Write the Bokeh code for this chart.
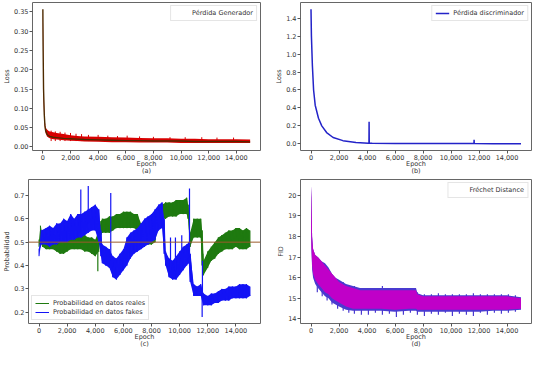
from bokeh.plotting import figure
from bokeh.models import FixedTicker, NumeralTickFormatter, Span, Legend, LegendItem, Range1d
from bokeh.layouts import column, row
from bokeh.embed import file_html
from bokeh.resources import INLINE

# ---------------- data ----------------
epoch_ticks = [0, 2000, 4000, 6000, 8000, 10000, 12000, 14000]

# (a) generator loss: envelope and core
gen_epoch = [0, 20, 50, 100, 150, 200, 300, 400, 500, 750, 1000, 1500, 2000, 2500, 3000,
             4000, 5000, 6000, 7000, 8000, 9000, 10000, 11000, 12000, 13000, 14000, 15000]
gen_lo = [0.30, 0.20, 0.12, 0.07, 0.045, 0.035, 0.027, 0.024, 0.022, 0.020, 0.019, 0.017, 0.016,
          0.015, 0.014, 0.013, 0.012, 0.012, 0.011, 0.011, 0.011, 0.010, 0.010, 0.010, 0.010, 0.010, 0.010]
gen_hi = [0.357, 0.30, 0.17, 0.10, 0.065, 0.050, 0.045, 0.042, 0.040, 0.038, 0.036, 0.033, 0.030,
          0.028, 0.027, 0.026, 0.025, 0.024, 0.023, 0.022, 0.022, 0.021, 0.021, 0.020, 0.020, 0.020, 0.019]
gen_core = [0.357, 0.25, 0.15, 0.085, 0.055, 0.042, 0.033, 0.029, 0.027, 0.025, 0.024, 0.022, 0.021,
            0.020, 0.019, 0.018, 0.017, 0.016, 0.016, 0.015, 0.015, 0.015, 0.014, 0.014, 0.014, 0.014, 0.013]
gen_spike_epoch = [600, 900, 1250, 1600, 2000, 2400, 2800, 3300, 4000, 4700, 5400, 6100, 7000, 8000,
                   9200, 10300, 11500, 12600, 13800]
gen_spike_hi = [0.042, 0.040, 0.039, 0.037, 0.036, 0.034, 0.033, 0.031, 0.031, 0.029, 0.028, 0.029,
                0.027, 0.026, 0.025, 0.025, 0.025, 0.024, 0.024]

# (b) discriminator loss
dis_epoch = [0, 30, 100, 185, 300, 535, 770, 1115, 1580, 2280, 3210, 4100, 4140, 4150, 4160,
             4370, 6000, 8000, 10000, 11640, 11650, 11660, 13000, 15000]
dis_loss = [1.50, 1.20, 0.87, 0.60, 0.43, 0.285, 0.20, 0.125, 0.07, 0.035, 0.015, 0.006, 0.006,
            0.245, 0.006, 0.005, 0.003, 0.002, 0.002, 0.002, 0.045, 0.002, 0.001, 0.001]

# (c) probability on real data (green)
real_epoch = [0, 100, 250, 500, 750, 1000, 1250, 1500, 1750, 2000, 2250, 2500, 2750, 3000, 3250,
              3500, 3750, 4000, 4250, 4400, 4500, 4750, 5000, 5250, 5500, 5750, 6000, 6250, 6500,
              6750, 7000, 7250, 7500, 7750, 8000, 8250, 8500, 8750, 9000, 9250, 9500, 9750, 10000,
              10250, 10500, 10600, 10750, 11000, 11250, 11500, 11600, 11700, 12000, 12250, 12500,
              12750, 13000, 13250, 13500, 13750, 14000, 14250, 14500, 14750, 15000]
real_lo = [0.48, 0.50, 0.48, 0.47, 0.47, 0.47, 0.46, 0.45, 0.45, 0.46, 0.47, 0.47, 0.47, 0.47, 0.46,
           0.46, 0.45, 0.44, 0.46, 0.53, 0.54, 0.54, 0.54, 0.55, 0.56, 0.56, 0.56, 0.56, 0.56,
           0.56, 0.55, 0.52, 0.50, 0.49, 0.49, 0.50, 0.58, 0.60, 0.60, 0.61, 0.61, 0.61, 0.62,
           0.62, 0.62, 0.60, 0.48, 0.52, 0.52, 0.52, 0.40, 0.36, 0.39, 0.42, 0.43,
           0.45, 0.46, 0.47, 0.47, 0.47, 0.48, 0.47, 0.47, 0.47, 0.48]
real_hi = [0.51, 0.57, 0.53, 0.52, 0.52, 0.52, 0.52, 0.51, 0.51, 0.52, 0.53, 0.53, 0.54, 0.53, 0.53,
           0.52, 0.52, 0.51, 0.55, 0.59, 0.60, 0.60, 0.61, 0.61, 0.62, 0.62, 0.63, 0.63, 0.63,
           0.62, 0.62, 0.58, 0.56, 0.55, 0.55, 0.56, 0.65, 0.66, 0.67, 0.67, 0.67, 0.68, 0.68,
           0.68, 0.69, 0.66, 0.54, 0.60, 0.60, 0.60, 0.55, 0.42, 0.46, 0.48, 0.50,
           0.52, 0.53, 0.54, 0.55, 0.55, 0.56, 0.56, 0.55, 0.56, 0.55]
real_spike_epoch = [4180, 11650]
real_spike_lo = [0.375, 0.355]
real_spike_hi = [0.46, 0.45]

# (c) probability on fake data (blue)
fake_epoch = [0, 150, 500, 750, 1000, 1250, 1500, 1750, 2000, 2250, 2500, 2750, 3000, 3250, 3500,
              3750, 4000, 4250, 4400, 4500, 4750, 5000, 5250, 5500, 5750, 6000, 6250, 6500, 6750,
              7000, 7250, 7500, 7750, 8000, 8250, 8500, 8750, 8900, 9000, 9250, 9500, 9750, 10000,
              10250, 10500, 10650, 10750, 11000, 11250, 11500, 11700, 12000, 12250, 12500, 12750,
              13000, 13250, 13500, 13750, 14000, 14250, 14500, 14750, 15000]
fake_lo = [0.44, 0.49, 0.49, 0.48, 0.49, 0.49, 0.50, 0.50, 0.50, 0.51, 0.51, 0.52, 0.52, 0.53, 0.54,
           0.55, 0.55, 0.50, 0.44, 0.41, 0.40, 0.39, 0.35, 0.34, 0.36, 0.38, 0.40, 0.43, 0.45,
           0.46, 0.47, 0.48, 0.49, 0.50, 0.51, 0.55, 0.56, 0.45, 0.40, 0.35, 0.34, 0.34, 0.36,
           0.38, 0.40, 0.41, 0.33, 0.27, 0.27, 0.27, 0.23, 0.23, 0.23, 0.24, 0.24,
           0.25, 0.25, 0.25, 0.26, 0.26, 0.26, 0.26, 0.26, 0.27]
fake_hi = [0.47, 0.55, 0.56, 0.57, 0.56, 0.58, 0.58, 0.60, 0.59, 0.62, 0.60, 0.62, 0.62, 0.63, 0.64,
           0.65, 0.66, 0.64, 0.55, 0.49, 0.48, 0.47, 0.44, 0.43, 0.45, 0.47, 0.52, 0.54, 0.55,
           0.56, 0.58, 0.60, 0.61, 0.62, 0.64, 0.66, 0.67, 0.60, 0.46, 0.43, 0.42, 0.44, 0.46,
           0.48, 0.49, 0.50, 0.45, 0.32, 0.31, 0.32, 0.28, 0.27, 0.28, 0.28, 0.29,
           0.30, 0.30, 0.31, 0.31, 0.31, 0.32, 0.32, 0.32, 0.31]
fake_spike_epoch = [2970, 3500, 5100, 9350, 9700, 10150, 10700, 11600, 11620]
fake_spike_lo = [0.55, 0.58, 0.42, 0.38, 0.38, 0.40, 0.45, 0.18, 0.25]
fake_spike_hi = [0.725, 0.74, 0.71, 0.52, 0.52, 0.53, 0.73, 0.28, 0.42]

# (d) Frechet distance: magenta band over blue band
fid_epoch = [0, 30, 80, 150, 300, 500, 750, 1000, 1250, 1500, 1750, 2000, 2500, 3000, 3500,
             4000, 5000, 6000, 7000, 7500, 7600, 8000, 9000, 10000, 11000, 12000, 13000, 14000, 15000]
fid_lo = [18.5, 17.5, 16.6, 16.2, 15.9, 15.7, 15.5, 15.3, 15.2, 15.0, 14.9, 14.8, 14.6, 14.5, 14.5,
          14.5, 14.5, 14.45, 14.5, 14.5, 14.45, 14.45, 14.45, 14.45, 14.45, 14.45, 14.45, 14.45, 14.5]
fid_hi = [20.45, 19.9, 18.0, 17.4, 17.1, 17.0, 16.8, 16.6, 16.4, 16.2, 16.0, 15.8, 15.6, 15.5, 15.4,
          15.4, 15.4, 15.4, 15.4, 15.4, 15.2, 15.1, 15.1, 15.1, 15.1, 15.1, 15.1, 15.1, 15.0]
fidb_lo = [18.4, 17.4, 16.4, 16.0, 15.7, 15.5, 15.3, 15.1, 15.0, 14.8, 14.7, 14.6, 14.45, 14.4, 14.4,
           14.4, 14.4, 14.35, 14.4, 14.4, 14.35, 14.35, 14.35, 14.35, 14.35, 14.35, 14.4, 14.4, 14.45]
fidb_hi = [20.45, 19.9, 18.0, 17.4, 17.1, 17.0, 16.8, 16.7, 16.5, 16.2, 16.0, 15.9, 15.7, 15.6, 15.5,
           15.5, 15.5, 15.5, 15.5, 15.5, 15.25, 15.15, 15.15, 15.15, 15.15, 15.15, 15.15, 15.15, 15.05]
fid_spike_epoch = [450, 800, 1150, 1500, 1900, 2300, 2700, 3100, 3600, 4100, 4600, 5100, 5600, 6100,
                   6600, 7100, 7600, 8100, 8600, 9100, 9600, 10100, 10600, 11100, 11600, 12100,
                   12600, 13100, 13600, 14100, 14600]
fid_spike_lo = [15.3, 15.1, 14.9, 14.7, 14.5, 14.4, 14.3, 14.25, 14.2, 14.2, 14.3, 14.2, 14.25, 14.1,
                14.2, 14.3, 14.2, 14.15, 14.25, 14.2, 14.3, 14.15, 14.25, 14.2, 14.15, 14.3,
                14.2, 14.3, 14.25, 14.3, 14.35]
fid_spike_hi = [17.0, 16.6, 16.5, 16.1, 15.9, 15.8, 15.6, 15.6, 15.5, 15.5, 15.5, 15.6, 15.5, 15.5,
                15.5, 15.5, 15.3, 15.2, 15.2, 15.25, 15.2, 15.2, 15.2, 15.2, 15.25, 15.2,
                15.2, 15.2, 15.2, 15.2, 15.15]

FONT = "DejaVu Sans"
FS = "6.5px"


def zigzag(xs, lo, hi):
    zx, zy = [], []
    for x, a, b in zip(xs, lo, hi):
        zx += [x, x]
        zy += [a, b]
    return zx, zy


def make_fig(w, h, yr, yticks, yfmt, ylabel, sub, bl, br, bt):
    p = figure(width=w, height=h, x_range=Range1d(-750, 15750), y_range=Range1d(*yr),
               output_backend="svg", toolbar_location=None,
               min_border_left=bl, min_border_right=br, min_border_top=bt, min_border_bottom=0)
    p.xaxis.ticker = FixedTicker(ticks=epoch_ticks)
    p.xaxis.formatter = NumeralTickFormatter(format="0,0")
    p.yaxis.ticker = FixedTicker(ticks=yticks)
    p.yaxis.formatter = NumeralTickFormatter(format=yfmt)
    p.xaxis.axis_label = "Epoch\n" + sub
    p.yaxis.axis_label = ylabel
    for ax in p.axis:
        ax.major_label_text_font_size = FS
        ax.major_label_text_font = FONT
        ax.major_label_text_color = "#333333"
        ax.axis_label_text_font_size = FS
        ax.axis_label_text_font = FONT
        ax.axis_label_text_font_style = "normal"
        ax.axis_label_text_color = "#333333"
        ax.axis_label_text_line_height = 0.95
        ax.major_tick_in = 0
        ax.major_tick_out = 3
        ax.minor_tick_out = 0
        ax.major_tick_line_color = "#555555"
        ax.minor_tick_line_color = None
        ax.axis_line_color = None
        ax.major_label_standoff = 1
        ax.axis_label_standoff = 0
    p.xaxis.axis_label_standoff = -3
    p.xgrid.visible = False
    p.ygrid.visible = False
    p.outline_line_color = "#666666"
    p.outline_line_width = 1
    return p


def style_legend(p, items, loc):
    lg = Legend(items=items, location=loc, label_text_font_size=FS, label_text_font=FONT,
                label_text_color="#333333", glyph_width=14, glyph_height=8, label_height=8,
                padding=3, spacing=1, margin=3, label_standoff=4,
                border_line_color="#cccccc", background_fill_alpha=0.85)
    p.add_layout(lg, "center")


H1, H2 = 178, 173

# ---------------- (a) ----------------
pa = make_fig(272, H1, (-0.0095, 0.3745), [0.0, 0.05, 0.10, 0.15, 0.20, 0.25, 0.30, 0.35],
              "0.00", "Loss", "(a)", 10, 12, 2)
pa.varea(x=gen_epoch, y1=gen_lo, y2=gen_hi, fill_color="#d80000")
pa.segment(x0=gen_spike_epoch, y0=[0.015] * len(gen_spike_epoch), x1=gen_spike_epoch,
           y1=gen_spike_hi, line_color="#d80000", line_width=1)
ra = pa.line([], [], line_color="#d83020", line_width=1.5)
pa.line(gen_epoch, gen_core, line_color="#4d2a00", line_width=1.4)
style_legend(pa, [LegendItem(label="Pérdida Generador", renderers=[ra])], "top_right")

# ---------------- (b) ----------------
pb = make_fig(262, H1, (-0.075, 1.575), [0.0, 0.2, 0.4, 0.6, 0.8, 1.0, 1.2, 1.4],
              "0.0", "Loss", "(b)", 28, 3, 2)
rb = pb.line(dis_epoch, dis_loss, line_color="#2323c8", line_width=1.5)
style_legend(pb, [LegendItem(label="Pérdida discriminador", renderers=[rb])], "top_right")

# ---------------- (c) ----------------
pc = make_fig(272, H2, (0.152, 0.768), [0.2, 0.3, 0.4, 0.5, 0.6, 0.7],
              "0.0", "Probabilidad", "(c)", 10, 12, 1)
GREEN = "#1f7a10"
BLUE = "#1414f5"
pc.varea(x=real_epoch, y1=real_lo, y2=real_hi, fill_color=GREEN)
zx, zy = zigzag(real_epoch, real_lo, real_hi)
rr = pc.line(zx, zy, line_color=GREEN, line_width=1)
pc.segment(x0=real_spike_epoch, y0=real_spike_lo, x1=real_spike_epoch, y1=real_spike_hi,
           line_color=GREEN, line_width=1.2)
pc.varea(x=fake_epoch, y1=fake_lo, y2=fake_hi, fill_color=BLUE)
zx, zy = zigzag(fake_epoch, fake_lo, fake_hi)
rf = pc.line(zx, zy, line_color=BLUE, line_width=1)
pc.segment(x0=fake_spike_epoch, y0=fake_spike_lo, x1=fake_spike_epoch, y1=fake_spike_hi,
           line_color=BLUE, line_width=1.2)
pc.add_layout(Span(location=0.5, dimension="width", line_color="#9a5a2a", line_width=1))
style_legend(pc, [LegendItem(label="Probabilidad en datos reales", renderers=[rr]),
                  LegendItem(label="Probabilidad en datos fakes", renderers=[rf])], "bottom_left")

# ---------------- (d) ----------------
pd_ = make_fig(262, H2, (13.78, 20.77), [14, 15, 16, 17, 18, 19, 20],
               "0", "FID", "(d)", 28, 3, 1)
pd_.varea(x=fid_epoch, y1=fidb_lo, y2=fidb_hi, fill_color="#4a3ad0")
pd_.segment(x0=fid_spike_epoch, y0=fid_spike_lo, x1=fid_spike_epoch, y1=fid_spike_hi,
            line_color="#4a3ad0", line_width=1.2)
pd_.varea(x=fid_epoch, y1=fid_lo, y2=fid_hi, fill_color="#c000c8")
rd = pd_.line([], [], line_color="#a050d8", line_width=1.5)
style_legend(pd_, [LegendItem(label="Fréchet Distance", renderers=[rd])], "top_right")

layout = column(row(pa, pb), row(pc, pd_))
open("out.html", "w").write(file_html(layout, INLINE))
